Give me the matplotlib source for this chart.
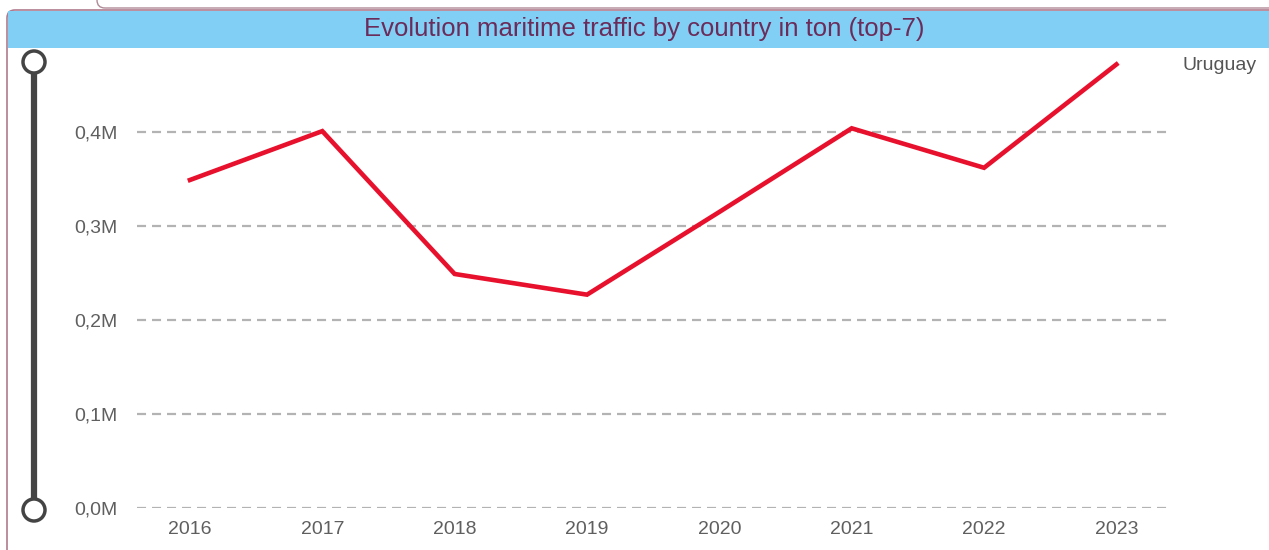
"""Evolution of maritime traffic for Uruguay (Power BI style card)."""

import matplotlib

matplotlib.use("Agg")
import matplotlib.pyplot as plt
from matplotlib.patches import Circle, FancyBboxPatch, Rectangle

plt.rcParams["font.family"] = ["Liberation Sans", "DejaVu Sans"]
plt.rcParams["lines.scale_dashes"] = False

years = ["2016", "2017", "2018", "2019", "2020", "2021", "2022", "2023"]
tons = [349_000, 401_000, 249_000, 227_000, 315_000, 404_000, 362_000, 472_000]
series_name = "Uruguay"
title = "Evolution maritime traffic by country in ton (top-7)"
y_ticks = [0, 100_000, 200_000, 300_000, 400_000]

W, H = 1269, 550
fig = plt.figure(figsize=(W / 100, H / 100), dpi=100)

# background layer in pixel coordinates: card frame, title bar, slider
bg = fig.add_axes([0, 0, 1, 1], zorder=0)
bg.set_xlim(0, W)
bg.set_ylim(H, 0)
bg.axis("off")

bg.add_patch(FancyBboxPatch((97, -20), 1300, 28, boxstyle="round,pad=0,rounding_size=8",
                            facecolor="white", edgecolor="#b08a98", lw=1))
bg.add_patch(FancyBboxPatch((7, 10), 1300, 600, boxstyle="round,pad=0,rounding_size=8",
                            facecolor="white", edgecolor="#b07a8e", lw=1.2))
bg.add_patch(Rectangle((8, 11), 1300, 37, facecolor="#82cff5", edgecolor="none"))
bg.text(644, 29, title, ha="center", va="center", fontsize=18.5, color="#6b2c5a")

bg.plot([34, 34], [62, 510], color="#444444", lw=4.5, solid_capstyle="butt")
for cy in (62, 510):
    bg.add_patch(Circle((34, cy), 11, facecolor="white", edgecolor="#444444", lw=2.5, zorder=3))

# chart
ax = fig.add_axes([137 / W, (H - 508) / H, (1172 - 137) / W, (508 - 55) / H], zorder=1)
ax.patch.set_alpha(0)
x = list(range(len(years)))
ax.plot(x, tons, color="#e8112d", lw=3.3, solid_joinstyle="miter", zorder=3)

ax.set_xlim(-0.40, 7.42)
ax.set_ylim(0, 482_000)
ax.set_yticks(y_ticks)
ax.set_yticklabels([f"{v / 1e6:.1f}M".replace(".", ",") for v in y_ticks])
ax.set_xticks(x)
ax.set_xticklabels(years)
for yv in y_ticks:
    ax.axhline(yv, color="#b3b3b3", lw=1.6, dashes=(6.5, 4.3), zorder=1)

ax.tick_params(axis="y", length=0, pad=14, labelsize=14, labelcolor="#5f5f5f")
ax.tick_params(axis="x", length=0, pad=9, labelsize=14, labelcolor="#5f5f5f")
for s in ax.spines.values():
    s.set_visible(False)

ax.annotate(series_name, xy=(x[-1], tons[-1]), xytext=(1182, H - 65),
            textcoords="figure pixels", ha="left", va="center",
            fontsize=14, color="#555555")

fig.savefig("out.png", dpi=100)
